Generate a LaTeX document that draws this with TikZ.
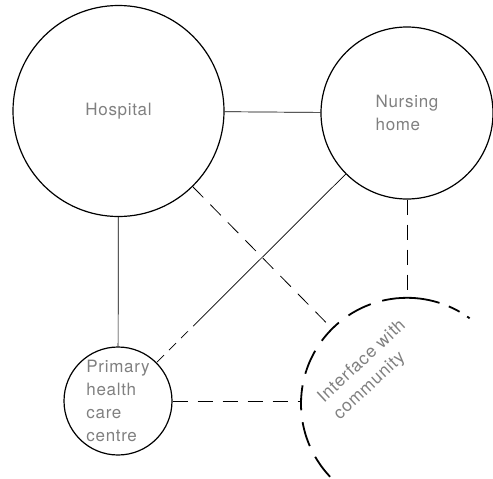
\documentclass[tikz,border=0pt]{standalone}
\usepackage{fontspec}
\newfontfamily\lab{TeX Gyre Heros}[LetterSpace=4]
\begin{document}
\begin{tikzpicture}[x=1pt,y=-1pt,
  place/.style={circle,draw=black,line width=1.2pt,inner sep=0pt,
    font=\lab\fontsize{17}{23}\selectfont,text=black!50,align=left},
  link/.style={line width=0.7pt},
  dlink/.style={line width=0.8pt,dash pattern=on 15pt off 10pt},
  iface/.style={line width=1.8pt,dash pattern=on 25pt off 12pt}]
\useasboundingbox (0,0) rectangle (493,479);
\node[place,minimum size=211pt] (hospital) at (118.5,111) {Hospital};
\node[place,minimum size=172pt] (nursing) at (407,113) {Nursing\\home};
\node[place,minimum size=108pt] (primary) at (118,401) {Primary\\health\\care\\centre};
\node[circle,minimum size=212pt,inner sep=0pt] (ic) at (406,404) {};
\node[font=\lab\fontsize{17.5}{23}\selectfont,text=black!50,align=left,rotate=43]
  (iftext) at (370,370) {Interface with\\community};
% connectors
\draw[link] (hospital) -- (nursing);
\draw[link] (hospital) -- (primary);
\path (nursing) -- (primary) coordinate[pos=0.77] (np);
\draw[link] (nursing) -- (np);
\draw[link,dash pattern=on 10pt off 7pt] (np) -- (primary);
\draw[dlink] (hospital) -- (ic);
\draw[dlink] (primary.east) -- (primary.east -| ic.west);
\coordinate (ictop) at (nursing.south |- ic.north);
\draw[dlink] (nursing.south) -- (ictop);
% interface arc
\begin{scope}
\clip (0,0) rectangle (493,479);
\draw[iface] (ictop) arc[start angle=-90,end angle=-235,radius=106];
\draw[line width=1.8pt,dash pattern=on 33pt off 10pt on 12pt off 9pt on 3pt off 20pt]
  (ictop) arc[start angle=-90,end angle=-52,radius=106];
\end{scope}
\end{tikzpicture}
\end{document}
